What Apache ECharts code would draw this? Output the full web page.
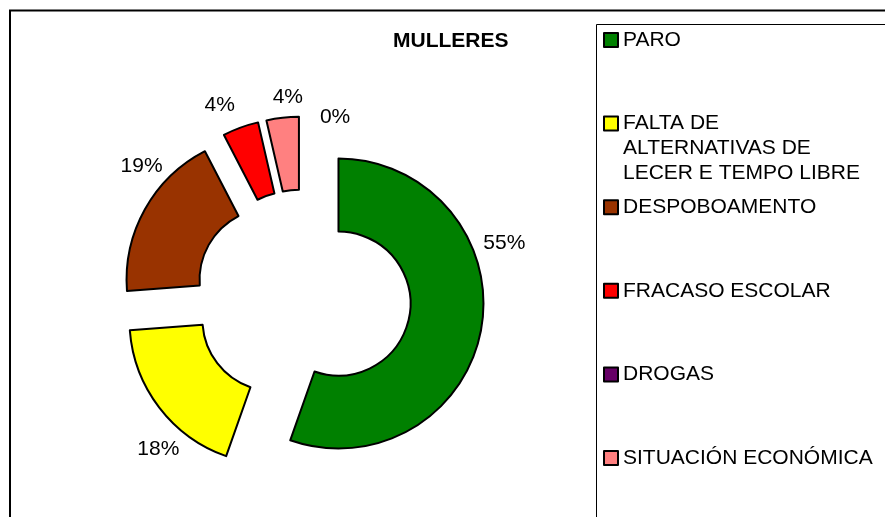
<!DOCTYPE html>
<html>
<head>
<meta charset="utf-8">
<script src="https://cdn.jsdelivr.net/npm/echarts@6/dist/echarts.min.js"></script>
<style>
html,body{margin:0;padding:0;background:#fff;}
#chart{width:885px;height:517px;}
</style>
</head>
<body>
<div id="chart"></div>
<script>
// ---- data ----
var categories = ['PARO', 'FALTA DE ALTERNATIVAS DE LECER E TEMPO LIBRE', 'DESPOBOAMENTO', 'FRACASO ESCOLAR', 'DROGAS', 'SITUACIÓN ECONÓMICA'];
var values = [55.4, 18.4, 18.6, 4.0, 0, 3.6];
var colors = ['#008000', '#FFFF00', '#993300', '#FF0000', '#660066', '#FF8080'];
var titleText = 'MULLERES';

var FONT = '"Liberation Sans", Arial, sans-serif';

var chart = echarts.init(document.getElementById('chart'), null, {renderer: 'canvas'});

// label nudges (text placement only, like the manually placed labels of the original)
var LABEL_NUDGE = [[-13, -86], [34, 39], [32, -41], [6, -18], [99, 1], [31, -15]];

var pieData = categories.map(function (c, i) {
  var bw = values[i] > 0 ? 2 : 0;
  return {
    name: c,
    value: values[i],
    selected: true,
    itemStyle: {color: colors[i], borderColor: '#000', borderWidth: bw},
    select: {itemStyle: {color: colors[i], borderColor: '#000', borderWidth: bw}}
  };
});

// word-wrap a legend name, then pad with blank lines so the icon sits on the first line
var WRAP_CHARS = 20, BOX_LINES = 5;
function legendFormatter(name) {
  var words = name.split(' '), lines = [], cur = '';
  words.forEach(function (w) {
    var t = cur ? cur + ' ' + w : w;
    if (t.length > WRAP_CHARS && cur) { lines.push(cur); cur = w; } else { cur = t; }
  });
  if (cur) lines.push(cur);
  var before = (BOX_LINES - 1) / 2;
  var out = [];
  for (var i = 0; i < before; i++) out.push('');
  out = out.concat(lines);
  while (out.length < BOX_LINES) out.push('');
  return out.join('\n');
}

var option = {
  animation: false,
  backgroundColor: '#fff',
  title: {
    text: titleText,
    left: 393,
    top: 31,
    padding: 0,
    textStyle: {fontFamily: FONT, fontSize: 21, fontWeight: 'bold', color: '#000'}
  },
  legend: {
    orient: 'vertical',
    left: 603,
    top: -22.5,
    height: 900,
    padding: 0,
    itemWidth: 14,
    itemHeight: 14,
    itemGap: -41.4,
    selectedMode: false,
    icon: 'rect',
    itemStyle: {borderColor: '#000', borderWidth: 2},
    textStyle: {fontFamily: FONT, fontSize: 21, color: '#000', lineHeight: 25},
    formatter: legendFormatter,
    data: categories
  },
  graphic: [{
    type: 'rect',
    shape: {x: 10, y: 10.5, width: 950, height: 600},
    style: {fill: 'none', stroke: '#000', lineWidth: 2},
    silent: true,
    z: -1
  }, {
    type: 'rect',
    shape: {x: 596.5, y: 24.5, width: 400, height: 600},
    style: {fill: 'none', stroke: '#000', lineWidth: 1},
    silent: true,
    z: -1
  }],
  series: [{
    type: 'pie',
    center: [303, 297.5],
    radius: [72, 145],
    startAngle: 90,
    clockwise: true,
    selectedMode: 'multiple',
    selectedOffset: 36,
    avoidLabelOverlap: false,
    minShowLabelAngle: -1,
    emphasis: {disabled: true},
    label: {
      show: true,
      position: 'outside',
      fontFamily: FONT,
      fontSize: 21,
      color: '#000',
      formatter: function (p) { return Math.round(p.percent) + '%'; }
    },
    labelLine: {show: false, length: 5, length2: 5},
    labelLayout: function (p) {
      var n = LABEL_NUDGE[p.dataIndex];
      return {dx: n[0], dy: n[1]};
    },
    data: pieData
  }]
};
chart.setOption(option);
</script>
</body>
</html>
